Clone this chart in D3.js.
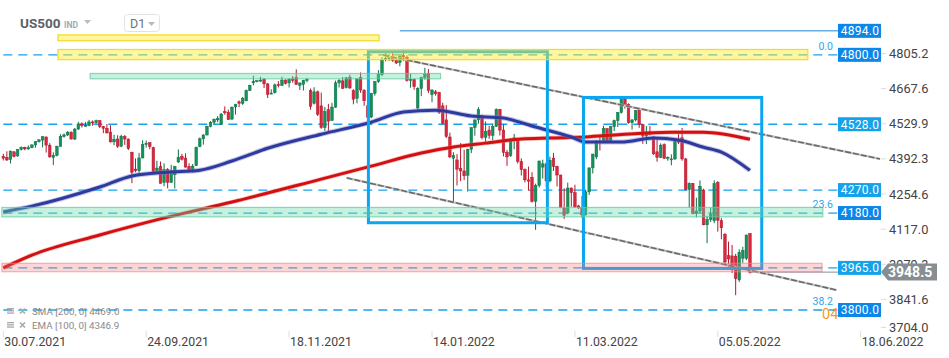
<!DOCTYPE html>
<html><head><meta charset="utf-8">
<script src="https://cdn.jsdelivr.net/npm/d3@7"></script>
<style>body{margin:0;background:#fff}svg{display:block;font-family:Roboto,"Noto Sans",sans-serif}</style>
</head><body><svg id="c" width="949" height="358"></svg>
<script>
// ---- DATA ----
// daily candles [open, high, low, close], 30.07.2021 .. 18.05.2022
const candles = [
[4402,4412,4386,4395],
[4398,4422,4384,4388],[4390,4424,4374,4423],[4420,4422,4398,4402],[4404,4430,4400,4429],[4429,4441,4425,4437],
[4437,4440,4426,4431],[4431,4445,4428,4436],[4436,4449,4434,4447],[4447,4461,4436,4460],[4460,4468,4456,4467],
[4466,4480,4437,4479],[4478,4480,4417,4446],[4446,4454,4397,4400],[4398,4418,4368,4406],[4406,4444,4402,4441],
[4441,4489,4440,4480],[4480,4492,4476,4486],[4486,4501,4482,4497],[4497,4500,4468,4470],[4470,4513,4466,4509],
[4509,4537,4506,4529],[4529,4535,4515,4523],[4523,4537,4518,4524],[4524,4545,4520,4537],[4537,4543,4522,4534],
[4534,4546,4530,4542],[4542,4544,4513,4519],[4519,4522,4493,4512],[4512,4529,4492,4494],[4497,4524,4456,4459],
[4459,4487,4446,4468],[4470,4485,4435,4442],[4442,4487,4438,4481],[4480,4486,4447,4470],[4470,4472,4427,4433],
[4418,4420,4297,4340],[4352,4394,4340,4346],[4346,4416,4334,4396],[4396,4465,4394,4449],[4449,4464,4436,4453],
[4456,4457,4430,4440],[4436,4440,4340,4343],[4343,4385,4338,4356],[4362,4382,4296,4296],[4300,4375,4285,4350],
[4350,4356,4277,4300],[4300,4369,4298,4345],[4330,4365,4276,4362],[4380,4429,4376,4398],[4402,4412,4386,4391],
[4395,4414,4358,4360],[4362,4375,4340,4348],[4348,4372,4338,4364],[4366,4440,4364,4438],[4440,4476,4438,4471],
[4471,4488,4448,4486],[4486,4521,4484,4520],[4520,4540,4516,4536],[4536,4550,4526,4548],[4545,4560,4536,4550],
[4528,4572,4526,4568],[4578,4598,4565,4573],[4575,4585,4545,4546],[4548,4597,4546,4595],[4596,4608,4566,4605],
[4616,4621,4595,4610],[4610,4635,4604,4630],[4620,4664,4618,4660],[4660,4683,4658,4680],[4690,4718,4681,4696],
[4696,4700,4692,4699],
[4699,4714,4694,4701],[4705,4708,4670,4686],[4686,4690,4631,4645],[4650,4665,4646,4650],[4652,4688,4648,4682],
[4684,4697,4672,4683],[4680,4714,4679,4701],[4701,4704,4684,4688],[4690,4708,4672,4705],[4706,4717,4691,4700],
[4712,4743,4682,4684],[4680,4691,4662,4690],[4684,4702,4660,4700],[4700,4710,4692,4704],[4660,4668,4585,4598],
[4610,4673,4605,4655],[4655,4660,4560,4567],[4600,4652,4510,4515],[4515,4595,4502,4577],[4585,4608,4496,4540],
[4543,4612,4541,4595],[4595,4699,4592,4690],[4690,4705,4672,4700],[4698,4713,4667,4668],[4672,4713,4668,4710],
[4712,4722,4667,4670],[4660,4665,4606,4626],[4630,4709,4610,4706],[4712,4731,4651,4662],[4660,4666,4600,4620],
[4600,4605,4531,4556],[4556,4651,4552,4649],[4649,4697,4640,4695],[4695,4740,4690,4725],
[4722,4791,4716,4780],[4782,4807,4775,4786],[4786,4804,4776,4792],[4792,4808,4772,4778],[4778,4788,4764,4768],
[4770,4797,4755,4795],[4798,4819,4775,4792],[4790,4798,4695,4700],[4700,4726,4671,4704],[4704,4707,4663,4675],
[4592,4673,4582,4668],[4668,4714,4638,4712],[4712,4749,4703,4725],[4728,4744,4650,4660],[4645,4665,4614,4662],
[4655,4662,4640,4648],[4652,4655,4568,4575],[4600,4612,4528,4532],[4545,4603,4474,4480],[4478,4495,4395,4400],
[4395,4418,4222,4405],[4388,4411,4288,4352],[4355,4454,4305,4345],[4345,4428,4309,4326],[4328,4432,4264,4430],
[4430,4516,4415,4515],[4515,4546,4483,4545],[4545,4595,4530,4585],[4560,4565,4469,4476],[4476,4539,4451,4500],
[4505,4521,4471,4484],[4484,4531,4465,4520],[4520,4590,4518,4586],[4586,4588,4484,4505],[4505,4527,4402,4418],
[4418,4427,4365,4400],[4405,4473,4400,4470],[4470,4490,4430,4475],[4470,4472,4374,4382],[4382,4394,4327,4350],
[4350,4355,4300,4310],[4310,4362,4268,4305],[4320,4340,4221,4226],[4226,4295,4114,4288],[4288,4385,4280,4384],
[4360,4389,4315,4373],[4373,4378,4280,4306],[4306,4401,4300,4387],[4395,4416,4345,4363],[4363,4365,4284,4329],
[4329,4330,4199,4201],[4200,4277,4157,4171],[4180,4299,4175,4278],[4278,4280,4205,4260],[4260,4291,4200,4204],
[4208,4212,4196,4200],
[4202,4247,4161,4173],[4173,4272,4170,4263],[4263,4358,4251,4357],[4357,4412,4335,4411],[4400,4465,4391,4462],
[4462,4481,4425,4458],[4458,4522,4455,4511],[4511,4512,4455,4457],[4457,4520,4455,4519],[4519,4546,4501,4542],
[4542,4575,4517,4574],[4574,4637,4570,4630],[4630,4634,4589,4603],[4605,4610,4530,4534],[4534,4548,4507,4545],
[4545,4583,4539,4582],[4590,4593,4514,4526],[4526,4530,4451,4482],[4482,4521,4450,4498],[4498,4521,4484,4488],
[4478,4480,4408,4412],[4420,4471,4381,4398],[4398,4453,4395,4446],[4448,4453,4392,4394],[4394,4402,4385,4398],
[4392,4410,4367,4392],[4392,4471,4388,4462],[4462,4489,4450,4458],[4475,4513,4385,4392],[4392,4396,4268,4272],
[4272,4300,4201,4296],[4296,4298,4175,4178],[4180,4240,4163,4188],[4188,4308,4180,4285],[4270,4275,4132,4134],
[4134,4169,4062,4155],[4155,4200,4145,4174],[4150,4308,4140,4295],[4300,4305,4107,4152],[4150,4160,4077,4122],
[4096,4102,3976,3988],[4013,4068,3958,4000],[4012,4055,3945,3960],[4011,4020,3858,3923],[3918,4038,3910,4026],
[4003,4048,3985,4034],[4002,4095,3995,4094],[4099,4101,3943,3948.5]
];
const xTickIndex  = [0, 40, 80, 120, 160, 200, 240];
const xTickLabels = ["30.07.2021","24.09.2021","18.11.2021","14.01.2022","11.03.2022","05.05.2022","18.06.2022"];
const yTickValues = [4805.2, 4667.6, 4529.9, 4392.3, 4254.6, 4117.0, 3979.3, 3841.6, 3704.0];
// moving averages: [bar index, value]
const smaPoints = [[0,3965],[8,4015],[27,4094],[46,4164],[64,4223],[89,4313],[103,4364],[117,4415],[126,4439],[135,4454],[145,4470],[153,4474],[163,4478],[173,4488],[187,4497],[196,4497],[209,4469]];
const emaPoints = [[0,4184],[8,4207],[27,4282],[36,4325],[46,4340],[55,4348],[64,4384],[74,4434],[89,4489],[103,4536],[112,4576],[121,4583],[131,4560],[140,4552],[149,4517],[159,4478],[163,4458],[173,4458],[182,4474],[189,4466],[196,4438],[201,4419],[209,4347]];
// horizontal levels
const levelValues = [4894, 4800, 4528, 4270, 4180, 3965, 3800];
const levelStartIndex = [111, 0, 0, 0, 0, 0, 0];
const levelDashed = [false, true, true, true, true, true, true];
const levelShade = ["dark","dark","light","light","dark","light","dark"];
const fibLabels = ["0.0", "23.6", "38.2"];
const fibValues = [4800, 4180, 3800];
// zones [startIndex, endIndex, lowValue, highValue]
const yellowZones = [[15.3,105.2,4855,4878],[15.3,225.2,4781,4821]];
const greenZones  = [[24.3,122.4,4706,4727],[-0.4,229.4,4165,4202]];
const redZones    = [[-0.4,229.2,3950,3983]];
// rectangles [i0, i1, vTop, vBottom]
const boxes = [[102.2,152.3,4812,4142],[162.4,212.3,4633,3963]];
// trend lines [i0, v0, i1, v1]
const trendLines = [[106.3,4799,245.4,4392],[96.1,4318,233.3,3878]];
const lastPrice = 3948.5;
const smaLegend = "SMA [200,  0]  4469.0";
const emaLegend = "EMA [100,  0]  4346.9";

// ---- CHART ----
const svg = d3.select("#c");
const x = d3.scaleLinear().domain([0, 240]).range([3.3, 860.7]);
const y = d3.scaleLinear().domain([3704, 4805.2]).range([334.5, 53.5]);
const plotRight = 881, labelX = 838;

const levelColor = "#17a2ee";
// level lines (under candles)
const lv = svg.append("g");
levelValues.forEach((v, k) => {
  lv.append("line").attr("x1", x(levelStartIndex[k])).attr("x2", labelX)
    .attr("y1", y(v)).attr("y2", y(v))
    .attr("stroke", levelDashed[k] ? levelColor : "#1c84dc")
    .attr("stroke-width", levelDashed[k] ? 1.3 : 1)
    .attr("stroke-dasharray", levelDashed[k] ? "9,6" : null);
});
// price line
svg.append("line").attr("x1", x(candles.length - 1)).attr("x2", plotRight)
  .attr("y1", y(lastPrice)).attr("y2", y(lastPrice)).attr("stroke", "#8a8f92").attr("stroke-width", 1);

// candles
const up = "#15925b", upDark = "#0e6f45", dn = "#d8283f", dnDark = "#b3182d";
const cg = svg.append("g");
cg.selectAll("line").data(candles).join("line")
  .attr("x1", (d, i) => x(i)).attr("x2", (d, i) => x(i))
  .attr("y1", d => y(d[1])).attr("y2", d => y(d[2]))
  .attr("stroke", d => d[3] >= d[0] ? upDark : dnDark).attr("stroke-width", 1);
cg.selectAll("rect").data(candles).join("rect")
  .attr("x", (d, i) => x(i) - 1.3).attr("width", 2.6)
  .attr("y", d => y(Math.max(d[0], d[3])))
  .attr("height", d => Math.max(1, Math.abs(y(d[0]) - y(d[3]))))
  .attr("fill", d => d[3] >= d[0] ? up : dn)
  .attr("stroke", d => d[3] >= d[0] ? upDark : dnDark).attr("stroke-width", 0.5);

// moving averages
const ln = d3.line().x(d => x(d[0])).y(d => y(d[1])).curve(d3.curveMonotoneX);
svg.append("path").attr("d", ln(smaPoints)).attr("fill", "none").attr("stroke", "#e87070").attr("stroke-width", 4.5).attr("opacity", 0.45);
svg.append("path").attr("d", ln(smaPoints)).attr("fill", "none").attr("stroke", "#d30f0f").attr("stroke-width", 3);
svg.append("path").attr("d", ln(emaPoints)).attr("fill", "none").attr("stroke", "#7a82c8").attr("stroke-width", 5).attr("opacity", 0.45);
svg.append("path").attr("d", ln(emaPoints)).attr("fill", "none").attr("stroke", "#2f3a9e").attr("stroke-width", 3);

// trend lines
trendLines.forEach(t => {
  svg.append("line").attr("x1", x(t[0])).attr("y1", y(t[1])).attr("x2", x(t[2])).attr("y2", y(t[3]))
    .attr("stroke", "#c8c8c8").attr("stroke-width", 2.4);
  svg.append("line").attr("x1", x(t[0])).attr("y1", y(t[1])).attr("x2", x(t[2])).attr("y2", y(t[3]))
    .attr("stroke", "#6a6a6a").attr("stroke-width", 1.6).attr("stroke-dasharray", "6,2");
});

// boxes
boxes.forEach(b => {
  svg.append("rect").attr("x", x(b[0])).attr("y", y(b[2]))
    .attr("width", x(b[1]) - x(b[0])).attr("height", y(b[3]) - y(b[2]))
    .attr("fill", "none").attr("stroke", "#0aa6f0").attr("stroke-width", 3);
});

// zones (semi transparent, on top)
function zone(z, fill, stroke) {
  svg.append("rect").attr("x", x(z[0])).attr("y", y(z[3]))
    .attr("width", x(z[1]) - x(z[0])).attr("height", y(z[2]) - y(z[3]))
    .attr("fill", fill).attr("stroke", stroke).attr("stroke-width", 1.2);
}
yellowZones.forEach(z => zone(z, "rgba(255,236,40,0.45)", "rgba(240,215,20,0.9)"));
greenZones.forEach(z => zone(z, "rgba(110,215,170,0.38)", "rgba(90,205,155,0.7)"));
redZones.forEach(z => zone(z, "rgba(245,120,120,0.30)", "rgba(240,130,130,0.6)"));

// fib labels
fibLabels.forEach((t, k) => {
  svg.append("text").attr("x", 833).attr("y", y(fibValues[k]) - 5).attr("text-anchor", "end")
    .attr("font-size", 10.5).attr("fill", "#2aa6ec").text(t);
});
svg.append("text").attr("x", 822).attr("y", y(3800) + 8.5).attr("font-size", 14.5).attr("fill", "#f39a1e").text("04");

// level labels
levelValues.forEach((v, k) => {
  svg.append("rect").attr("x", labelX).attr("y", y(v) - 7).attr("width", plotRight - labelX).attr("height", 14)
    .attr("fill", levelShade[k] === "dark" ? "#0b87ea" : "#14a2ea");
  svg.append("text").attr("x", (labelX + plotRight) / 2 + 0.5).attr("y", y(v) + 4.3).attr("text-anchor", "middle")
    .attr("font-size", 12).attr("fill", "#fff").attr("letter-spacing", 0.3).text(v.toFixed(1));
});

// right axis
yTickValues.forEach(v => {
  const ty = Math.min(y(v), 327.5);
  svg.append("line").attr("x1", plotRight).attr("x2", plotRight + 5).attr("y1", ty).attr("y2", ty).attr("stroke", "#ddd");
  svg.append("text").attr("x", 889).attr("y", ty + 4.5).attr("font-size", 12.8).attr("fill", "#444").text(v.toFixed(1));
});
// last price tag
const py = y(lastPrice);
svg.append("path").attr("d", `M${plotRight},${py} L${plotRight + 7},${py - 8.5} L937,${py - 8.5} L937,${py + 8.5} L${plotRight + 7},${py + 8.5} Z`).attr("fill", "#868e91");
svg.append("text").attr("x", 888).attr("y", py + 5).attr("font-size", 14).attr("font-weight", "bold").attr("fill", "#fff").text(lastPrice.toFixed(1));

// bottom axis
xTickIndex.forEach((ix, k) => {
  svg.append("line").attr("x1", x(ix)).attr("x2", x(ix)).attr("y1", 331).attr("y2", 337).attr("stroke", "#ddd");
  svg.append("text").attr("x", x(ix) + 1).attr("y", 345.5).attr("font-size", 12.3).attr("fill", "#444").text(xTickLabels[k]);
});

// legend
[[smaLegend, 312], [emaLegend, 326]].forEach(([t, ly]) => {
  const lg = svg.append("g").attr("fill", "#a9a9a9");
  [0, 2.2, 4.4].forEach(o => lg.append("rect").attr("x", 7).attr("y", ly - 4 + o).attr("width", 7).attr("height", 1.3));
  svg.append("path").attr("d", `M20,${ly - 3.5} L25,${ly + 1.5} M25,${ly - 3.5} L20,${ly + 1.5}`).attr("stroke", "#aaa").attr("stroke-width", 1.6);
  svg.append("text").attr("x", 32).attr("y", ly + 3.2).attr("font-size", 9.8).attr("fill", "#8a8a8a").text(t);
});

// header
svg.append("text").attr("x", 20).attr("y", 28).attr("font-size", 13.5).attr("font-weight", "bold").attr("fill", "#5b6168").text("US500");
svg.append("text").attr("x", 64).attr("y", 27.5).attr("font-size", 8.5).attr("font-weight", "bold").attr("fill", "#a3aab2").text("IND");
svg.append("path").attr("d", "M84,20 L91,20 L87.5,24 Z").attr("fill", "#bbb");
svg.append("rect").attr("x", 124.5).attr("y", 14.5).attr("width", 35).attr("height", 17).attr("rx", 3).attr("fill", "#fff").attr("stroke", "#dfe2e6");
svg.append("text").attr("x", 130).attr("y", 28).attr("font-size", 12.5).attr("fill", "#6d737a").text("D1");
svg.append("path").attr("d", "M148,22 L155,22 L151.5,26 Z").attr("fill", "#b5b9be");
</script></body></html>
